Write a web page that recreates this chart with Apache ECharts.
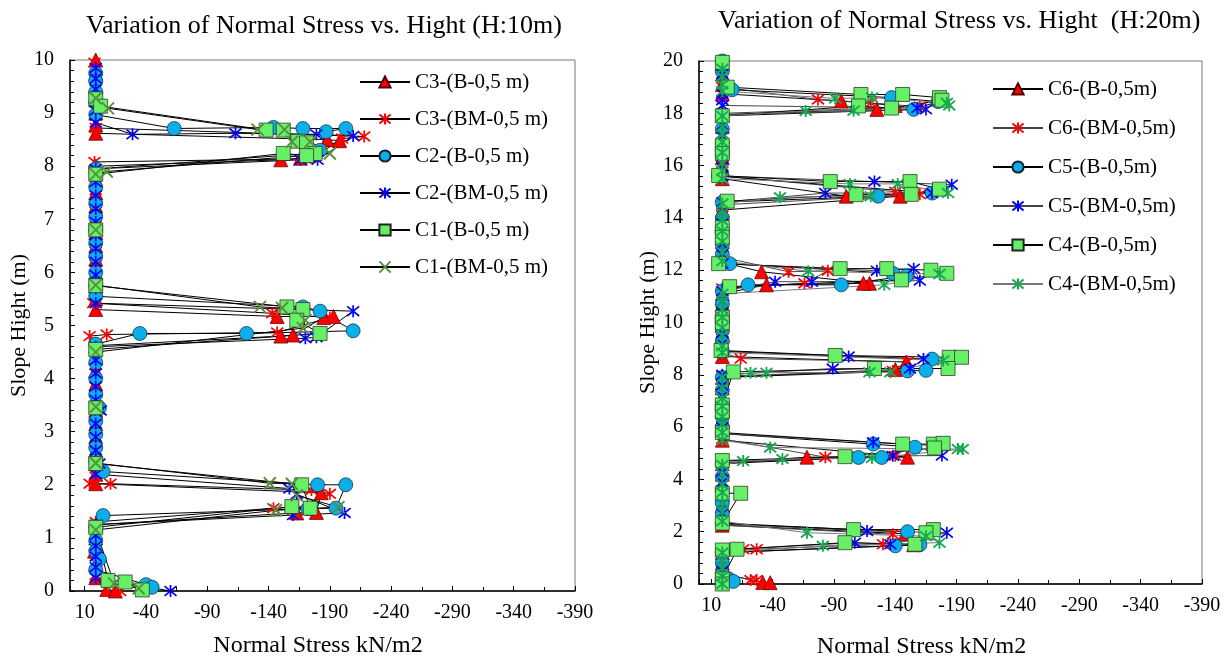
<!DOCTYPE html>
<html><head><meta charset="utf-8">
<script src="https://cdn.jsdelivr.net/npm/echarts/dist/echarts.min.js"></script>
<style>html,body{margin:0;padding:0;background:#fff}#chart{width:1229px;height:664px}</style>
</head><body><div id="chart"></div>
<script>
// ---------- DATA : [normal stress (kN/m2), height (m)] ----------
// H = 10 m
const c3B10 = [[1,10.0],[1,9.75],[1,9.5],[1,9.25],[1,9.0],[1,8.78],[1,8.62],[-188,8.5],[-198,8.48],[-166,8.15],[-150,8.12],[1,8.0],[1,7.75],[1,7.5],[1,7.25],[1,7.0],[1,6.75],[1,6.5],[1,6.25],[1,6.0],[1,5.75],[1,5.5],[1,5.3],[-147,5.17],[-193,5.17],[-185,5.15],[-160,4.82],[-150,4.8],[1,4.62],[1,4.4],[1,4.15],[1,3.9],[1,3.65],[1,3.4],[1,3.15],[1,2.9],[1,2.65],[1,2.4],[1,2.2],[1,2.02],[-183,1.85],[-179,1.48],[-163,1.47],[1,1.25],[1,1.0],[2,0.75],[1,0.5],[1,0.25],[-8,0.03],[-15,0.0]];
const c3BM10 = [[2,9.95],[1,9.7],[1,9.45],[1,9.2],[1,8.95],[1,8.72],[-218,8.56],[-200,8.52],[-178,8.18],[-170,8.14],[2,8.08],[1,7.8],[1,7.55],[1,7.3],[1,7.05],[1,6.8],[1,6.55],[1,6.3],[1,6.05],[1,5.8],[1,5.6],[3,5.42],[-143,5.23],[-190,5.15],[-147,4.87],[-8,4.83],[6,4.8],[1,4.6],[1,4.35],[1,4.1],[1,3.85],[1,3.6],[1,3.35],[1,3.1],[1,2.85],[1,2.6],[1,2.35],[1,2.15],[6,2.02],[-11,2.02],[-175,1.9],[-190,1.83],[-160,1.52],[-144,1.56],[1,1.3],[1,1.05],[1,0.8],[1,0.55],[1,0.3],[-19,0.0]];
const c2B10 = [[1,9.75],[1,9.6],[1,9.4],[1,9.2],[1,8.97],[-63,8.71],[-144,8.73],[-168,8.71],[-203,8.71],[-187,8.65],[-182,8.3],[-175,8.24],[1,7.95],[1,7.6],[1,7.3],[1,7.05],[1,6.8],[1,6.55],[1,6.3],[1,6.0],[1,5.75],[1,5.55],[-168,5.35],[-182,5.27],[-209,4.9],[-122,4.85],[-35,4.85],[1,4.65],[1,4.3],[1,4.0],[1,3.7],[-2,3.45],[1,3.2],[1,2.95],[1,2.7],[1,2.45],[-5,2.25],[-180,2.0],[-203,2.0],[-195,1.56],[-172,1.55],[-5,1.42],[1,1.2],[1,0.95],[1,0.75],[-2,0.6],[1,0.4],[-40,0.12],[-45,0.07]];
const c2BM10 = [[1,9.85],[1,9.65],[1,9.45],[1,9.25],[1,9.05],[1,8.82],[-29,8.6],[-113,8.62],[-179,8.6],[-209,8.57],[-180,8.12],[-166,8.12],[1,7.95],[1,7.7],[1,7.45],[1,7.2],[1,6.95],[1,6.7],[1,6.45],[1,6.2],[1,5.95],[1,5.7],[1,5.42],[-209,5.27],[-179,4.78],[-170,4.76],[1,4.6],[1,4.35],[1,4.1],[1,3.85],[1,3.6],[-3,3.4],[1,3.15],[1,2.9],[1,2.65],[-2,2.4],[1,2.2],[-157,1.93],[-163,1.82],[-202,1.47],[-160,1.43],[1,1.25],[1,1.05],[1,0.85],[1,0.65],[1,0.45],[1,0.25],[-60,0.0]];
const c1B10 = [[1,9.27],[-3,9.13],[-138,8.68],[-152,8.68],[-164,8.47],[-171,8.44],[-178,8.24],[-171,8.2],[-152,8.24],[1,7.85],[1,6.8],[1,5.75],[-155,5.35],[-168,5.3],[-163,5.1],[-182,4.85],[1,4.55],[1,3.45],[1,2.4],[-167,2.0],[-174,1.56],[-159,1.59],[1,1.2],[-9,0.2],[-23,0.17],[-37,0.02]];
const c1BM10 = [[1,9.28],[-9,9.09],[-131,8.69],[-153,8.69],[-159,8.46],[-174,8.46],[-190,8.24],[-8,7.9],[1,7.85],[1,6.8],[1,5.76],[-133,5.35],[-151,5.33],[-170,5.1],[-168,4.95],[1,4.5],[1,3.47],[1,2.41],[-141,2.03],[-159,2.02],[-163,1.8],[-197,1.58],[-146,1.52],[1,1.15],[-14,0.14],[-34,0.05]];
// H = 20 m
const c6B20 = [[1,19.9],[1,19.5],[1,19.1],[1,18.75],[-96,18.47],[-140,18.3],[-125,18.15],[1,17.95],[1,17.5],[1,17.1],[1,16.7],[1,16.3],[1,15.9],[1,15.5],[-100,14.83],[-144,14.83],[1,14.3],[1,13.9],[1,13.5],[1,13.1],[1,12.7],[1,12.3],[-31,11.94],[-119,11.5],[-114,11.5],[-35,11.44],[1,11.1],[1,10.7],[1,10.3],[1,9.9],[1,9.5],[1,9.1],[1,8.7],[-149,8.49],[-140,8.2],[1,7.9],[1,7.5],[1,7.1],[1,6.7],[1,6.3],[1,5.9],[1,5.5],[-150,4.85],[-68,4.85],[1,4.6],[1,4.2],[1,3.8],[1,3.4],[1,3.0],[1,2.6],[1,2.25],[-148,1.92],[-155,1.5],[1,1.2],[1,0.8],[1,0.4],[-32,0.06],[-38,0.05]];
const c6BM20 = [[1,19.8],[1,19.4],[1,19.0],[-77,18.53],[-120,18.4],[-160,18.25],[1,18.0],[1,17.6],[1,17.2],[1,16.8],[1,16.4],[1,16.0],[1,15.6],[-140,15.0],[-160,14.9],[1,14.5],[1,14.1],[1,13.7],[1,13.3],[1,12.9],[1,12.5],[-53,11.94],[-85,11.98],[-66,11.5],[1,11.3],[1,10.9],[1,10.5],[1,10.1],[1,9.7],[1,9.3],[1,8.85],[-14,8.62],[-150,8.5],[-138,8.15],[1,7.95],[1,7.55],[1,7.15],[1,6.75],[1,6.35],[1,5.95],[1,5.55],[-83,4.85],[-140,4.9],[1,4.65],[1,4.25],[1,3.85],[1,3.45],[1,3.05],[1,2.65],[1,2.25],[-138,1.9],[-130,1.52],[-27,1.33],[-16,1.33],[1,1.1],[1,0.7],[1,0.4],[-22,0.15],[-27,0.15]];
const c5B20 = [[1,20.0],[1,19.6],[-7,18.9],[-137,18.6],[-175,18.45],[-155,18.15],[1,17.9],[1,17.4],[1,16.9],[1,16.4],[4,15.6],[-170,14.95],[-126,14.83],[1,14.6],[1,14.0],[1,13.5],[1,13.0],[1,12.6],[-5,12.25],[-138,11.88],[-149,11.78],[-96,11.44],[-20,11.44],[1,11.2],[1,10.7],[1,10.2],[1,9.7],[1,9.3],[1,8.9],[-170,8.6],[-165,8.17],[-150,8.15],[1,7.9],[1,7.4],[1,6.9],[1,6.4],[1,6.0],[1,5.75],[-122,5.35],[-156,5.23],[-129,4.84],[-110,4.84],[1,4.6],[1,4.1],[1,3.6],[1,3.1],[1,2.7],[1,2.3],[-150,2.0],[-160,1.5],[-140,1.46],[1,1.2],[1,0.8],[1,0.4],[-4,0.2],[-8,0.1]];
const c5BM20 = [[1,19.9],[1,19.5],[1,19.1],[1,18.75],[1,18.5],[1,18.3],[-158,18.2],[-165,18.15],[1,17.95],[1,17.55],[1,17.15],[1,16.75],[1,16.35],[1,15.95],[1,15.6],[-123,15.39],[-186,15.27],[-170,14.95],[-83,14.95],[1,14.6],[1,14.2],[1,13.8],[1,13.4],[1,13.0],[1,12.6],[1,12.25],[-125,11.98],[-155,12.06],[-160,11.6],[-72,11.56],[-42,11.56],[1,11.2],[1,10.8],[1,10.4],[1,10.0],[1,9.6],[1,9.2],[1,8.9],[-102,8.7],[-163,8.6],[-152,8.24],[-89,8.24],[1,8.0],[1,7.6],[1,7.2],[1,6.8],[1,6.4],[1,6.0],[1,5.75],[-122,5.42],[-170,5.3],[-178,4.91],[-138,4.9],[1,4.7],[1,4.3],[1,3.9],[1,3.5],[1,3.1],[1,2.7],[1,2.3],[-117,2.03],[-182,1.96],[-136,1.52],[-107,1.58],[1,1.3],[1,0.9],[1,0.5],[1,0.1]];
const c4B20 = [[1,19.95],[-3,19.0],[-112,18.72],[-146,18.72],[-176,18.6],[-178,18.5],[-137,18.2],[-110,18.28],[1,17.9],[1,16.77],[1,16.46],[4,15.62],[-87,15.39],[-152,15.39],[-176,15.1],[-153,14.9],[-108,14.89],[-3,14.64],[1,13.63],[1,13.26],[4,12.25],[-95,12.06],[-133,12.06],[-169,12.0],[-182,11.88],[-145,11.63],[-5,11.37],[1,10.2],[1,9.99],[2,8.93],[-91,8.74],[-184,8.67],[-194,8.67],[-183,8.24],[-123,8.24],[-8,8.11],[1,6.85],[1,6.6],[1,5.79],[-146,5.35],[-171,5.35],[-179,5.38],[-172,5.2],[-99,4.87],[1,4.72],[1,3.47],[-14,3.47],[1,2.33],[-106,2.08],[-171,2.08],[-165,1.96],[-156,1.52],[-99,1.58],[1,1.3],[-11,1.33],[1,0.2],[1,0.0]];
const c4BM20 = [[1,19.7],[1,19.4],[1,19.1],[1,18.85],[-91,18.57],[-121,18.6],[-182,18.4],[-184,18.3],[-106,18.1],[-67,18.09],[1,17.9],[1,17.5],[1,17.2],[1,16.9],[1,16.5],[1,16.1],[1,15.8],[1,15.5],[-103,15.3],[-142,15.3],[-183,14.95],[-120,14.83],[-46,14.79],[1,14.55],[1,14.2],[1,13.9],[1,13.5],[1,13.1],[1,12.7],[1,12.35],[-69,11.96],[-176,11.85],[-131,11.44],[1,11.1],[1,10.8],[1,10.5],[1,10.2],[1,9.8],[1,9.5],[1,9.1],[1,8.85],[-179,8.55],[-136,8.1],[-119,8.1],[-35,8.08],[-22,8.08],[1,7.9],[1,7.5],[1,7.1],[1,6.8],[1,6.4],[1,6.1],[1,5.8],[1,5.5],[-38,5.22],[-191,5.16],[-195,5.16],[-121,4.82],[-48,4.78],[-16,4.7],[1,4.55],[1,4.2],[1,3.8],[1,3.5],[1,3.1],[1,2.75],[1,2.4],[-68,1.96],[-165,1.83],[-176,1.58],[-81,1.46],[1,1.2],[1,0.9],[1,0.6],[1,0.3],[1,0.0]];

const names10 = ['C3-(B-0,5 m)','C3-(BM-0,5 m)','C2-(B-0,5 m)','C2-(BM-0,5 m)','C1-(B-0,5 m)','C1-(BM-0,5 m)'];
const names20 = ['C6-(B-0,5m)','C6-(BM-0,5m)','C5-(B-0,5m)','C5-(BM-0,5m)','C4-(B-0,5m)','C4-(BM-0,5m)'];
const titles = ['Variation of Normal Stress vs. Hight (H:10m)','Variation of Normal Stress vs. Hight  (H:20m)'];
const xName = 'Normal Stress kN/m2';
const yName = 'Slope Hight (m)';
const STRESS_TOP = 10;   // stress shown at the first (left) tick
const STRESS_STEP = 50;  // tick step of the stress axis

// ---------- CHART ----------
const FONT = "'Liberation Serif','Times New Roman',serif";
const ASTER = 'path://M1,1L9,9M9,1L1,9M5,0L5,10';
const XMARK = 'path://M0,0L10,10M10,0L0,10';
// plotted x = STRESS_TOP - stress, so the axis grows to the right like the original
const toXY = arr => arr.map(p => [STRESS_TOP - p[0], p[1]]);

function ser(name, data, g, symbol, size, color, border, bw, lineColor) {
  return {
    type: 'line', name, data: toXY(data), xAxisIndex: g, yAxisIndex: g,
    symbol, symbolSize: size, showAllSymbol: true, animation: false,
    itemStyle: { color, borderColor: border, borderWidth: bw, opacity: 1 },
    lineStyle: { color: lineColor, width: 1 },
    emphasis: { disabled: true }
  };
}
const RED = '#ff0000', CYAN = '#0aaee8', BLUE = '#0000ff', LGREEN = '#66f066', OLIVE = '#5b8e3e', GREEN = '#16a850';

const series = [
  ser(names10[0], c3B10, 0, 'triangle', 14, RED, '#500', 0.7, '#000'),
  ser(names10[1], c3BM10, 0, ASTER, 12, RED, RED, 1.7, '#000'),
  ser(names10[2], c2B10, 0, 'circle', 14, CYAN, '#123', 0.7, '#000'),
  ser(names10[3], c2BM10, 0, ASTER, 12, BLUE, BLUE, 1.7, '#000'),
  ser(names10[4], c1B10, 0, 'rect', 14, LGREEN, '#222', 0.7, '#000'),
  ser(names10[5], c1BM10, 0, XMARK, 12, OLIVE, OLIVE, 1.9, '#000'),
  ser(names20[0], c6B20, 1, 'triangle', 14, RED, '#500', 0.7, '#000'),
  ser(names20[1], c6BM20, 1, ASTER, 12, RED, RED, 1.7, '#444'),
  ser(names20[2], c5B20, 1, 'circle', 14, CYAN, '#123', 0.7, '#000'),
  ser(names20[3], c5BM20, 1, ASTER, 12, BLUE, BLUE, 1.7, '#444'),
  ser(names20[4], c4B20, 1, 'rect', 14, LGREEN, '#222', 0.7, '#000'),
  ser(names20[5], c4BM20, 1, ASTER, 12, GREEN, GREEN, 1.8, '#777')
];

function xAx(g, min, namePadRight, gap) {
  return {
    gridIndex: g, type: 'value', min, max: 400, splitNumber: 8,
    minInterval: STRESS_STEP, maxInterval: STRESS_STEP,
    axisLine: { show: true, onZero: false, lineStyle: { color: '#000', width: 1.5 } },
    axisTick: { show: true, inside: true, length: 5, lineStyle: { color: '#000', width: 1 } },
    minorTick: { show: true, splitNumber: 2, length: 4, lineStyle: { color: '#000', width: 1 } },
    splitLine: { show: false },
    axisLabel: {
      color: '#000', fontFamily: FONT, fontSize: 20, margin: 12,
      showMinLabel: true, showMaxLabel: true,
      formatter: v => (Math.abs(v % STRESS_STEP) < 1e-6 ? String(STRESS_TOP - v) : '')
    },
    name: xName, nameLocation: 'middle', nameGap: gap,
    nameTextStyle: { color: '#000', fontFamily: FONT, fontSize: 24, padding: [0, namePadRight, 0, 0] }
  };
}
function yAx(g, max, interval, gap) {
  return {
    gridIndex: g, type: 'value', min: 0, max, interval,
    axisLine: { show: true, onZero: false, lineStyle: { color: '#000', width: 1.5 } },
    axisTick: { show: true, inside: true, length: 5, lineStyle: { color: '#000', width: 1 } },
    minorTick: { show: true, splitNumber: 5, length: 4, lineStyle: { color: '#000', width: 1 } },
    splitLine: { show: false },
    axisLabel: { color: '#000', fontFamily: FONT, fontSize: 20, margin: 16 },
    name: yName, nameLocation: 'middle', nameGap: gap, nameRotate: 90,
    nameTextStyle: { color: '#000', fontFamily: FONT, fontSize: 22 }
  };
}

const chart = echarts.init(document.getElementById('chart'), null, { renderer: 'canvas' });
chart.setOption({
  backgroundColor: '#fff',
  animation: false,
  title: [
    { text: titles[0], left: 81, top: 8, textStyle: { color: '#000', fontFamily: FONT, fontSize: 26, fontWeight: 'normal' } },
    { text: titles[1], left: 713, top: 3, textStyle: { color: '#000', fontFamily: FONT, fontSize: 26, fontWeight: 'normal' } }
  ],
  legend: [
    { data: names10, orient: 'vertical', left: 359, top: 71, padding: 0, itemWidth: 50, itemHeight: 14, itemGap: 15,
      selectedMode: false, textStyle: { color: '#000', fontFamily: FONT, fontSize: 21, lineHeight: 22 } },
    { data: names20, orient: 'vertical', left: 992, top: 78, padding: 0, itemWidth: 50, itemHeight: 14, itemGap: 17,
      selectedMode: false, textStyle: { color: '#000', fontFamily: FONT, fontSize: 21, lineHeight: 22 } }
  ],
  grid: [
    { left: 70, top: 60, width: 505, height: 531, show: true, borderColor: '#777', borderWidth: 1 },
    { left: 699, top: 61, width: 503, height: 531, show: true, borderColor: '#777', borderWidth: 1 }
  ],
  xAxis: [xAx(0, -12, 9, 43), xAx(1, -10, 58, 51)],
  yAxis: [yAx(0, 10, 1, 38), yAx(1, 20, 2, 38)],
  series
});
</script></body></html>
